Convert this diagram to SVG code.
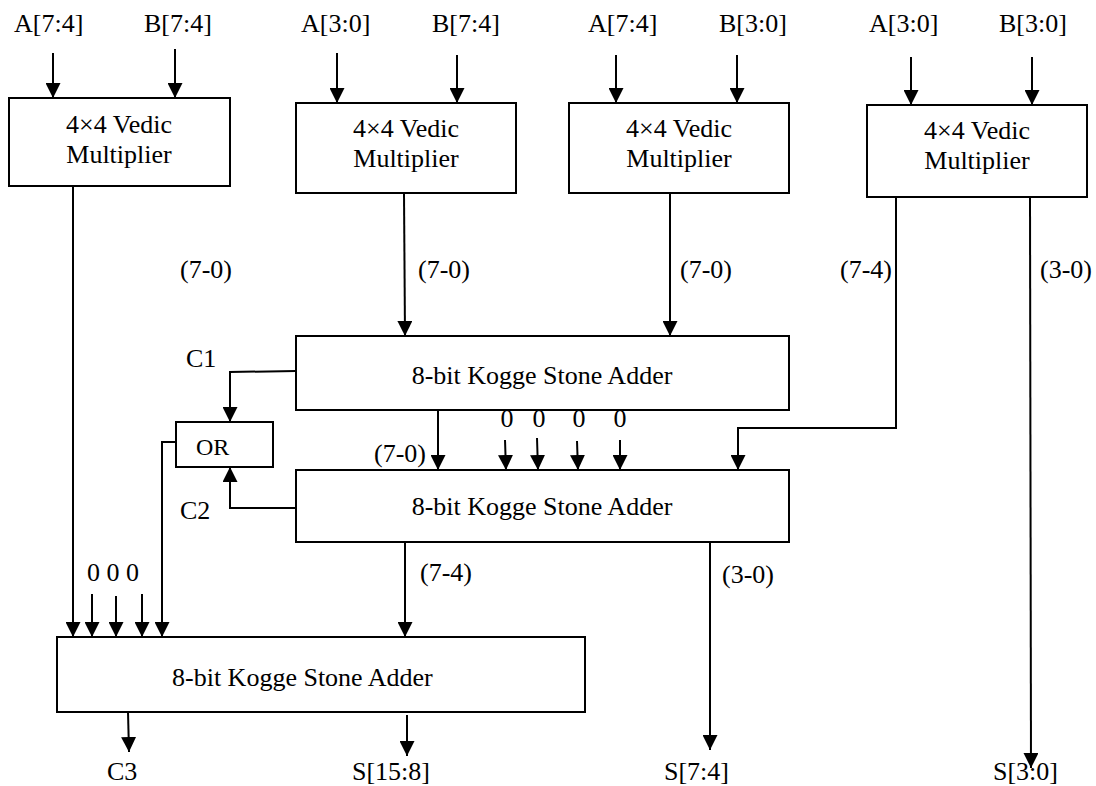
<svg xmlns="http://www.w3.org/2000/svg" width="1096" height="786" viewBox="0 0 1096 786">
<style>
.box{fill:#fff;stroke:#000;stroke-width:2}
.t{font-family:"Liberation Serif","Times New Roman",serif;font-size:26px;fill:#000}
.m{text-anchor:middle}
.w{fill:none;stroke:#000;stroke-width:2}
.a{fill:none;stroke:#000;stroke-width:2;marker-end:url(#ah)}
</style>
<defs>
<marker id="ah" viewBox="0 0 15 15" refX="15" refY="7.5" markerWidth="15" markerHeight="15" markerUnits="userSpaceOnUse" orient="auto">
<path d="M0,0 L15,7.5 L0,15 z" fill="#000"/>
</marker>
</defs>
<rect width="1096" height="786" fill="#fff"/>

<g id="mult1">
<rect class="box" x="9" y="98" width="221" height="88"/>
<text class="t m" x="119" y="133">4×4 Vedic</text>
<text class="t m" x="119" y="163">Multiplier</text>
</g>
<g id="mult2">
<rect class="box" x="296" y="103" width="220" height="90"/>
<text class="t m" x="406" y="137">4×4 Vedic</text>
<text class="t m" x="406" y="167">Multiplier</text>
</g>
<g id="mult3">
<rect class="box" x="569" y="103" width="220" height="90"/>
<text class="t m" x="679" y="137">4×4 Vedic</text>
<text class="t m" x="679" y="167">Multiplier</text>
</g>
<g id="mult4">
<rect class="box" x="867" y="105" width="220" height="92"/>
<text class="t m" x="977" y="139">4×4 Vedic</text>
<text class="t m" x="977" y="169">Multiplier</text>
</g>
<g id="adder1">
<rect class="box" x="296" y="336" width="493" height="74"/>
<text class="t m" x="542" y="384">8-bit Kogge Stone Adder</text>
</g>
<g id="adder2">
<rect class="box" x="296" y="470" width="493" height="72"/>
<text class="t m" x="542" y="515">8-bit Kogge Stone Adder</text>
</g>
<g id="or-gate">
<rect class="box" x="176" y="422" width="97" height="45"/>
<text class="t" x="196" y="455" style="font-size:24px">OR</text>
</g>
<g id="adder3">
<rect class="box" x="57" y="637" width="528" height="75"/>
<text class="t" x="172" y="686">8-bit Kogge Stone Adder</text>
</g>

<g id="connectors">
<!-- inputs -->
<line class="a" x1="53" y1="53" x2="53" y2="98"/>
<line class="a" x1="175" y1="49" x2="175" y2="98"/>
<line class="a" x1="337" y1="53" x2="337" y2="103"/>
<line class="a" x1="457" y1="55" x2="457" y2="103"/>
<line class="a" x1="616" y1="55" x2="616" y2="103"/>
<line class="a" x1="737" y1="55" x2="737" y2="103"/>
<line class="a" x1="911" y1="57" x2="911" y2="105"/>
<line class="a" x1="1032" y1="57" x2="1032" y2="105"/>
<!-- multiplier outputs -->
<line class="a" x1="73" y1="186" x2="73" y2="637"/>
<line class="a" x1="404" y1="193" x2="405" y2="336"/>
<line class="a" x1="670" y1="193" x2="670" y2="336"/>
<polyline class="a" points="896,197 896,428 738,428 738,470"/>
<line class="a" x1="1030" y1="197" x2="1031" y2="768"/>
<!-- adder1 -->
<line class="a" x1="438" y1="410" x2="438" y2="470"/>
<polyline class="a" points="296,371 230,372 230,422"/>
<!-- zeros to adder2 -->
<line class="a" x1="505" y1="440" x2="506" y2="470"/>
<line class="a" x1="537" y1="438" x2="538" y2="470"/>
<line class="a" x1="577" y1="441" x2="578" y2="470"/>
<line class="a" x1="620" y1="440" x2="620" y2="470"/>
<!-- adder2 -->
<polyline class="a" points="296,508 230,508 230,467"/>
<polyline class="a" points="176,442 162,442 162,637"/>
<line class="a" x1="405" y1="542" x2="405" y2="637"/>
<line class="a" x1="710" y1="542" x2="710" y2="750"/>
<!-- zeros to adder3 -->
<line class="a" x1="92" y1="594" x2="92" y2="637"/>
<line class="a" x1="116" y1="596" x2="116" y2="637"/>
<line class="a" x1="142" y1="594" x2="142" y2="637"/>
<!-- adder3 outputs -->
<line class="a" x1="128" y1="712" x2="129" y2="752"/>
<line class="a" x1="407" y1="715" x2="407" y2="756"/>
</g>

<g id="labels">
<text class="t" x="14" y="32">A[7:4]</text>
<text class="t" x="144" y="32">B[7:4]</text>
<text class="t" x="301" y="32">A[3:0]</text>
<text class="t" x="432" y="32">B[7:4]</text>
<text class="t" x="588" y="32">A[7:4]</text>
<text class="t" x="719" y="32">B[3:0]</text>
<text class="t" x="869" y="32">A[3:0]</text>
<text class="t" x="999" y="32">B[3:0]</text>
<text class="t" x="180" y="278">(7-0)</text>
<text class="t" x="418" y="278">(7-0)</text>
<text class="t" x="680" y="278">(7-0)</text>
<text class="t" x="840" y="278">(7-4)</text>
<text class="t" x="1040" y="278">(3-0)</text>
<text class="t" x="186" y="367">C1</text>
<text class="t" x="180" y="519">C2</text>
<text class="t" x="374" y="462">(7-0)</text>
<text class="t m" x="507" y="427">0</text>
<text class="t m" x="539" y="427">0</text>
<text class="t m" x="579" y="427">0</text>
<text class="t m" x="620" y="427">0</text>
<text class="t" x="87" y="581">0 0 0</text>
<text class="t" x="420" y="581">(7-4)</text>
<text class="t" x="722" y="583">(3-0)</text>
<text class="t" x="107" y="780">C3</text>
<text class="t" x="352" y="780">S[15:8]</text>
<text class="t" x="664" y="780">S[7:4]</text>
<text class="t" x="993" y="780">S[3:0]</text>
</g>
</svg>
